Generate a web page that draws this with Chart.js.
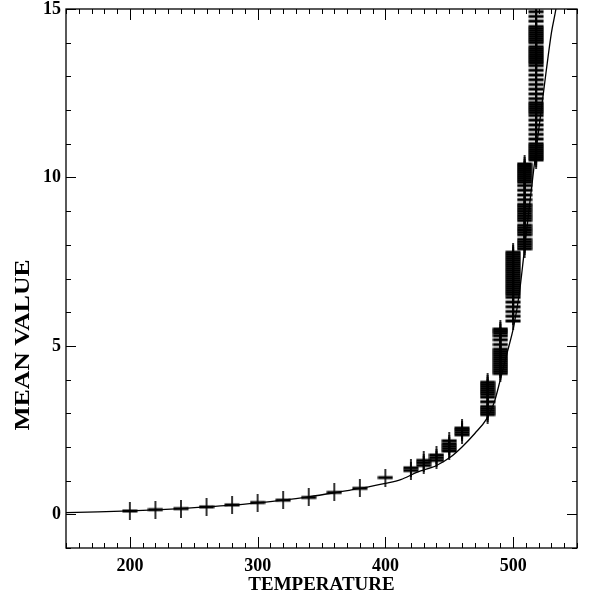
<!DOCTYPE html>
<html><head><meta charset="utf-8">
<script src="https://cdn.jsdelivr.net/npm/chart.js@4/dist/chart.umd.min.js"></script>
<style>html,body{margin:0;padding:0;background:#fff}#wrap{width:589px;height:599px}</style>
</head><body><div id="wrap"><canvas id="c" width="589" height="599"></canvas></div>
<script>
// ---- data ----
const xTickLabels = [200, 300, 400, 500];
const yTickLabels = [0, 5, 10, 15];
const xTitle = 'TEMPERATURE';
const yTitle = 'MEAN VALUE';

const lowTemps = [200, 220, 240, 260, 280, 300, 320, 340, 360, 380, 400];
const lowMeans = [0.10, 0.14, 0.17, 0.22, 0.28, 0.35, 0.42, 0.50, 0.65, 0.77, 1.09];

const clusterTemps = [420, 430, 440, 450, 460, 480, 490, 500, 509, 518];
const clusterMeans = [
  [1.30, 1.38],
  [1.45, 1.53, 1.60],
  [1.60, 1.68, 1.76],
  [1.88, 1.95, 2.02, 2.09, 2.18],
  [2.36, 2.43, 2.50, 2.56],
  [2.96, 3.02, 3.08, 3.14, 3.20, 3.34, 3.48, 3.56, 3.62, 3.68, 3.74, 3.80, 3.86, 3.92],
  [4.18, 4.24, 4.30, 4.36, 4.42, 4.48, 4.54, 4.60, 4.66, 4.72, 4.78, 4.84, 4.90, 5.04, 5.18, 5.30, 5.38, 5.44, 5.50],
  [5.74, 5.88, 6.02, 6.16, 6.30, 6.44, 6.52, 6.58, 6.64, 6.70, 6.76, 6.82, 6.88, 6.94, 7.00, 7.06, 7.12, 7.18, 7.24, 7.30, 7.36, 7.42, 7.48, 7.54, 7.60, 7.66, 7.72, 7.78],
  [7.88, 7.95, 8.02, 8.09, 8.16, 8.30, 8.37, 8.44, 8.51, 8.58, 8.72, 8.79, 8.86, 8.93, 9.00, 9.07, 9.14, 9.20, 9.34, 9.48, 9.62, 9.76, 9.86, 9.92, 9.98, 10.04, 10.10, 10.16, 10.22, 10.28, 10.34, 10.40],
  [10.52, 10.58, 10.64, 10.70, 10.76, 10.82, 10.88, 10.94, 11.00, 11.14, 11.28, 11.42, 11.56, 11.70, 11.84, 11.92, 11.98, 12.04, 12.10, 12.16, 12.22, 12.34, 12.48, 12.62, 12.76, 12.90, 13.04, 13.18, 13.32, 13.40, 13.46, 13.52, 13.58, 13.64, 13.70, 13.76, 13.82, 13.88, 14.00, 14.06, 14.12, 14.18, 14.24, 14.30, 14.36, 14.42, 14.48, 14.64, 14.78, 14.92]
];

const curveTemps = [150, 175, 200, 220, 240, 260, 280, 300, 320, 340, 360, 380, 400, 412, 425, 440, 451, 460, 470, 479, 485, 490, 495, 500.6, 505, 508.4, 512, 516, 521, 525.7, 530, 533.5, 537];
const curveMeans = [0.05, 0.07, 0.10, 0.13, 0.17, 0.22, 0.27, 0.34, 0.42, 0.52, 0.64, 0.77, 0.92, 1.03, 1.25, 1.45, 1.70, 2.00, 2.40, 2.82, 3.30, 4.00, 4.75, 5.60, 6.60, 7.70, 8.90, 10.20, 11.70, 13.10, 14.30, 15.00, 15.90];

// ---- build library data ----
const markerPts = [];
lowTemps.forEach((t, i) => markerPts.push({x: t, y: lowMeans[i]}));
clusterTemps.forEach((t, i) => clusterMeans[i].forEach(v => markerPts.push({x: t, y: v})));
const curvePts = curveTemps.map((t, i) => ({x: t, y: curveMeans[i]}));

// marker glyph: wide horizontal dash with thin vertical bar
const mk = document.createElement('canvas');
mk.width = 16; mk.height = 18;
const g = mk.getContext('2d');
g.fillStyle = '#000';
g.fillRect(0.5, 7.5, 15, 3);
g.fillRect(7.2, 0, 1.6, 18);

const FONT = "'Liberation Serif', 'Times New Roman', serif";

const frame = {
  id: 'frame',
  afterDraw(chart) {
    const {ctx, chartArea: a, scales: {x, y}} = chart;
    ctx.save();
    ctx.strokeStyle = '#000';
    ctx.lineWidth = 1.3;
    ctx.strokeRect(a.left, a.top, a.right - a.left, a.bottom - a.top);
    ctx.lineWidth = 1;
    const line = (x1, y1, x2, y2) => { ctx.beginPath(); ctx.moveTo(x1, y1); ctx.lineTo(x2, y2); ctx.stroke(); };
    x.ticks.forEach(t => {
      const px = Math.round(x.getPixelForValue(t.value)) + 0.5;
      const L = xTickLabels.includes(t.value) ? 11 : 5;
      line(px, a.bottom, px, a.bottom - L);
      line(px, a.top, px, a.top + L);
    });
    y.ticks.forEach(t => {
      const py = Math.round(y.getPixelForValue(t.value)) + 0.5;
      const L = yTickLabels.includes(t.value) ? 10 : 5;
      line(a.left, py, a.left + L, py);
      line(a.right, py, a.right - L, py);
    });
    // y axis title
    ctx.fillStyle = '#000';
    ctx.font = "bold 20px " + FONT;
    ctx.textAlign = 'center';
    ctx.textBaseline = 'middle';
    ctx.translate(24, 345);
    ctx.rotate(-Math.PI / 2);
    ctx.scale(1.28, 1);
    ctx.fillText(yTitle, 0, 0);
    ctx.restore();
  }
};

new Chart(document.getElementById('c'), {
  type: 'scatter',
  data: {
    datasets: [
      {
        type: 'line',
        data: curvePts,
        borderColor: '#000',
        borderWidth: 1.3,
        pointRadius: 0,
        fill: false,
        cubicInterpolationMode: 'monotone',
        clip: 0,
        order: 2
      },
      {
        data: markerPts,
        pointStyle: mk,
        pointRadius: 8,
        clip: 0,
        order: 1
      }
    ]
  },
  options: {
    responsive: false,
    devicePixelRatio: 1,
    animation: false,
    layout: {padding: {top: 6, right: 12, left: 0, bottom: 0}},
    plugins: {legend: {display: false}, tooltip: {enabled: false}},
    scales: {
      x: {
        type: 'linear', min: 150, max: 550,
        grid: {display: false, drawTicks: false, tickLength: 0},
        border: {display: false},
        ticks: {
          stepSize: 10, autoSkip: false, maxRotation: 0, padding: 8, color: '#000',
          font: {family: FONT, size: 18, weight: 'bold'},
          callback: v => xTickLabels.includes(v) ? String(v) : ''
        },
        title: {display: true, text: xTitle, color: '#000',
          font: {family: FONT, size: 19, weight: 'bold'}, padding: {top: 0, bottom: 3}},
        afterFit: s => { s.height = 51; s.paddingLeft = 0; s.paddingRight = 0; }
      },
      y: {
        type: 'linear', min: -1, max: 15,
        grid: {display: false, drawTicks: false, tickLength: 0},
        border: {display: false},
        ticks: {
          stepSize: 1, autoSkip: false, padding: 5, color: '#000',
          font: {family: FONT, size: 18, weight: 'bold'},
          callback: v => yTickLabels.includes(v) ? String(v) : ''
        },
        title: {display: false},
        afterFit: s => { s.width = 66; s.paddingTop = 0; s.paddingBottom = 0; }
      }
    }
  },
  plugins: [frame]
});
</script>
</body></html>
